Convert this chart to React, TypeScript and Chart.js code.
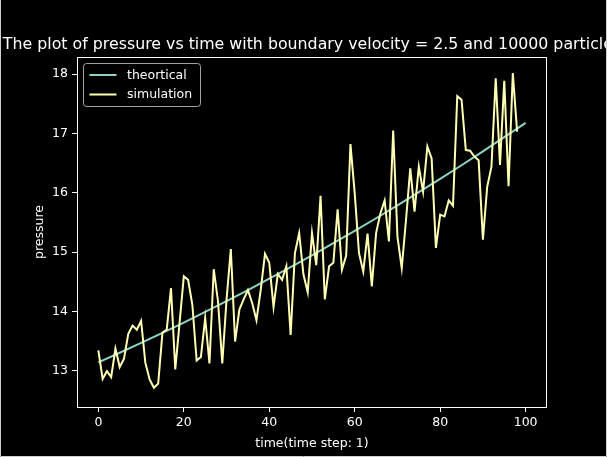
import React, { useEffect, useRef } from "react";
import { Chart, registerables } from "chart.js";

Chart.register(...registerables);

// Measured pressure for each time step (step size 1, starting at t = 0)
const simulationPressure = [
  13.34, 12.86, 12.99, 12.89, 13.37, 13.06, 13.2, 13.62, 13.76, 13.69,
  13.84, 13.13, 12.85, 12.71, 12.78, 13.64, 13.69, 14.39, 13.02, 13.8,
  14.59, 14.53, 14.11, 13.17, 13.23, 13.89, 13.12, 14.71, 14.17, 13.12,
  14.2, 15.05, 13.49, 14.03, 14.2, 14.36, 14.14, 13.85, 14.36, 14.97,
  14.82, 14.07, 14.63, 14.53, 14.76, 13.6, 14.98, 15.32, 14.62, 14.32,
  15.32, 14.78, 15.95, 14.2, 14.76, 14.82, 15.72, 14.7, 14.94, 16.82,
  15.99, 14.98, 14.67, 15.31, 14.42, 15.32, 15.65, 15.87, 15.18, 17.05,
  15.26, 14.73, 15.54, 16.41, 15.68, 16.44, 16.02, 16.78, 16.58, 15.07,
  15.63, 15.6, 15.87, 15.78, 17.63, 17.57, 16.72, 16.71, 16.61, 16.55,
  15.21, 16.1, 16.44, 17.93, 16.47, 17.89, 16.11, 18.02, 17.03,
];

// Theoretical pressure curve
const theoryTimes = [0, 5, 10, 15, 20, 25, 30, 35, 40, 45, 50, 55, 60, 65, 70, 75, 80, 85, 90, 95, 100];
const theoryPressure = [
  13.14, 13.301, 13.467, 13.636, 13.81, 13.989, 14.171, 14.358, 14.55, 14.745,
  14.945, 15.149, 15.358, 15.57, 15.787, 16.009, 16.234, 16.464, 16.699, 16.937, 17.18,
];

const xTicks = [0, 20, 40, 60, 80, 100];
const yTicks = [13, 14, 15, 16, 17, 18];

const titleText = "The plot of pressure vs time with boundary velocity = 2.5 and 10000 particles";
const seriesNames = ["theortical", "simulation"];
const theoryColor = "#8dd3c7";
const simColor = "#feffb3";
const FONT = "'DejaVu Sans', sans-serif";

const decorations = {
  id: "decorations",
  afterDatasetsDraw(chart: any) {
    const { ctx, chartArea: a, width, height } = chart;
    ctx.save();

    // axes frame
    ctx.strokeStyle = "#ffffff";
    ctx.lineWidth = 1;
    ctx.strokeRect(a.left + 0.5, a.top + 0.5, a.right - a.left - 1, a.bottom - a.top);

    // title (wider than the figure, so it runs off both sides)
    ctx.fillStyle = "#ffffff";
    ctx.font = `15.8px ${FONT}`;
    ctx.textAlign = "center";
    ctx.textBaseline = "alphabetic";
    ctx.fillText(titleText, (a.left + a.right) / 2, 49);

    // legend
    const bx = a.left + 6.5;
    const by = a.top + 6.5;
    const bw = 117;
    const bh = 43;
    ctx.beginPath();
    ctx.roundRect(bx, by, bw, bh, 3);
    ctx.fillStyle = "rgba(0,0,0,0.8)";
    ctx.fill();
    ctx.strokeStyle = "#a3a3a3";
    ctx.lineWidth = 1;
    ctx.stroke();

    const colors = [theoryColor, simColor];
    ctx.font = `12.5px ${FONT}`;
    ctx.textAlign = "left";
    ctx.textBaseline = "middle";
    seriesNames.forEach((name, i) => {
      const cy = by + 11.5 + i * 19.5;
      ctx.beginPath();
      ctx.moveTo(bx + 6, cy);
      ctx.lineTo(bx + 33, cy);
      ctx.strokeStyle = colors[i];
      ctx.lineWidth = 2;
      ctx.stroke();
      ctx.fillStyle = "#ffffff";
      ctx.fillText(name, bx + 43.5, cy + 0.5);
    });

    // thin light edge around the figure
    ctx.strokeStyle = "#d0d0d0";
    ctx.lineWidth = 1;
    ctx.beginPath();
    ctx.moveTo(0.5, 0);
    ctx.lineTo(0.5, height - 0.5);
    ctx.lineTo(width - 0.5, height - 0.5);
    ctx.lineTo(width - 0.5, 0);
    ctx.stroke();

    ctx.restore();
  },
};

export default function App() {
  const canvasRef = useRef<HTMLCanvasElement>(null);

  useEffect(() => {
    const canvas = canvasRef.current;
    if (!canvas) return;

    const tickFont = { family: FONT, size: 12.5 };

    const chart = new Chart(canvas, {
      type: "line",
      data: {
        datasets: [
          {
            label: seriesNames[0],
            data: theoryTimes.map((t, i) => ({ x: t, y: theoryPressure[i] })),
            borderColor: theoryColor,
            borderWidth: 2,
            pointRadius: 0,
            tension: 0,
            order: 1,
          },
          {
            label: seriesNames[1],
            data: simulationPressure.map((p, t) => ({ x: t, y: p })),
            borderColor: simColor,
            borderWidth: 2,
            pointRadius: 0,
            tension: 0,
            order: 0,
          },
        ],
      },
      options: {
        responsive: false,
        animation: false,
        devicePixelRatio: 1,
        layout: { padding: { top: 57, right: 60, bottom: 0, left: 0 } },
        plugins: {
          legend: { display: false },
          tooltip: { enabled: false },
          title: { display: false },
        },
        scales: {
          x: {
            type: "linear",
            min: -5,
            max: 105,
            afterBuildTicks: (s: any) => {
              s.ticks = xTicks.map((v) => ({ value: v }));
            },
            afterFit: (s: any) => {
              s.height = 50;
            },
            ticks: {
              color: "#ffffff",
              font: tickFont,
              padding: 3,
              maxRotation: 0,
              autoSkip: false,
            },
            grid: {
              display: true,
              drawOnChartArea: false,
              drawTicks: true,
              tickLength: 5,
              color: "#ffffff",
              lineWidth: 1,
            },
            border: { display: false },
            title: {
              display: true,
              text: "time(time step: 1)",
              color: "#ffffff",
              font: tickFont,
              padding: { top: 0, bottom: 6 },
            },
          },
          y: {
            type: "linear",
            min: 12.386,
            max: 18.29,
            afterBuildTicks: (s: any) => {
              s.ticks = yTicks.map((v) => ({ value: v }));
            },
            afterFit: (s: any) => {
              s.width = 77;
            },
            ticks: {
              color: "#ffffff",
              font: tickFont,
              padding: 4,
              autoSkip: false,
            },
            grid: {
              display: true,
              drawOnChartArea: false,
              drawTicks: true,
              tickLength: 5,
              color: "#ffffff",
              lineWidth: 1,
            },
            border: { display: false },
            title: {
              display: true,
              text: "pressure",
              color: "#ffffff",
              font: tickFont,
              padding: { top: 32, bottom: 0 },
            },
          },
        },
      },
      plugins: [decorations],
    });

    return () => chart.destroy();
  }, []);

  return (
    <div
      style={{
        position: "fixed",
        left: 0,
        top: 0,
        width: 607,
        height: 457,
        background: "#000000",
      }}
    >
      <canvas ref={canvasRef} width={607} height={457} style={{ display: "block" }} />
    </div>
  );
}
